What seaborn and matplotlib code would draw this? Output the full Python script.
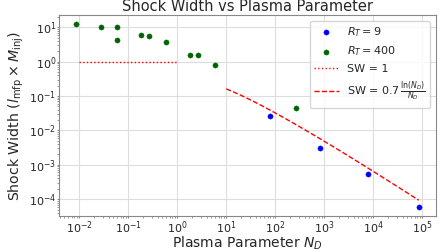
import numpy as np
import pandas as pd
import matplotlib
matplotlib.use("Agg")
import matplotlib.pyplot as plt
import seaborn as sns

# R_T = 9 series
nd_rt9 = [80, 805, 8000, 85000]
sw_rt9 = [0.026, 0.003, 5.5e-4, 5.9e-5]

# R_T = 400 series
nd_rt400 = [0.0087, 0.0278, 0.06, 0.06, 0.185, 0.27, 0.58, 1.86, 2.7, 5.8, 270]
sw_rt400 = [12.2, 10.0, 10.0, 4.3, 5.75, 5.4, 3.7, 1.58, 1.58, 0.82, 0.044]

# reference line ranges
sw1_range = [0.01, 1.0]
fit_range = [10, 85000]

sns.set_style("whitegrid", {"axes.edgecolor": "#888888", "grid.color": "#dddddd",
                            "xtick.bottom": True, "ytick.left": True})
plt.rcParams['font.family'] = ['DejaVu Sans']

fig, ax = plt.subplots(figsize=(4.48, 2.52), dpi=100)

df9 = pd.DataFrame({"N_D": nd_rt9, "SW": sw_rt9})
df400 = pd.DataFrame({"N_D": nd_rt400, "SW": sw_rt400})

sns.scatterplot(data=df9, x="N_D", y="SW", color="blue", s=14, edgecolor=None,
                label=r"$R_T = 9$", ax=ax)
sns.scatterplot(data=df400, x="N_D", y="SW", color="darkgreen", s=14, edgecolor=None,
                label=r"$R_T = 400$", ax=ax)

ax.set_xscale("log")
ax.set_yscale("log")

xs1 = np.array(sw1_range)
sns.lineplot(x=xs1, y=np.ones_like(xs1), color="red", linestyle=":", linewidth=1,
             label="SW = 1", ax=ax)
xf = np.logspace(np.log10(fit_range[0]), np.log10(fit_range[1]), 100)
sns.lineplot(x=xf, y=0.7 * np.log(xf) / xf, color="red", linestyle="--", linewidth=1,
             label=r"SW = $0.7\,\frac{\ln(N_D)}{N_D}$", ax=ax)

ax.set_title("Shock Width vs Plasma Parameter", fontsize=10.5, pad=3)
ax.set_xlabel(r"Plasma Parameter $N_D$", fontsize=10, labelpad=-0.5)
ax.set_ylabel(r"Shock Width ($l_{\rm mfp} \times M_{\rm inj}$)", fontsize=10.2, labelpad=2)
ax.tick_params(labelsize=8, which="major", length=1.5, color="#888888", pad=0.5)
ax.tick_params(which="minor", length=1.2, color="#888888")
ax.set_xticks([1e-2, 1e-1, 1e0, 1e1, 1e2, 1e3, 1e4, 1e5])
ax.set_yticks([1e-4, 1e-3, 1e-2, 1e-1, 1e0, 1e1])

leg = ax.legend(loc="upper right", fontsize=8, frameon=True, handlelength=2.2)

fig.subplots_adjust(left=0.132, right=0.973, top=0.94, bottom=0.142)
fig.savefig("out.png", dpi=100)
